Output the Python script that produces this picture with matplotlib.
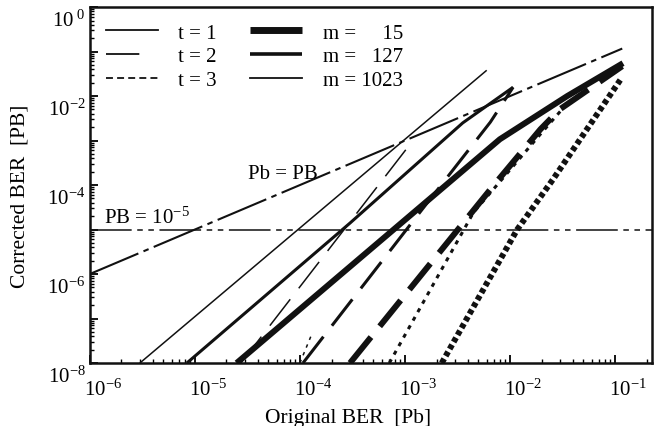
import matplotlib
matplotlib.use('Agg')
import matplotlib.pyplot as plt
from matplotlib.lines import Line2D
from matplotlib.transforms import ScaledTranslation

plt.rcParams['font.family'] = ['Liberation Serif', 'DejaVu Serif']
plt.rcParams['mathtext.fontset'] = 'custom'
plt.rcParams['mathtext.rm'] = 'Liberation Serif'
plt.rcParams['mathtext.it'] = 'Liberation Serif:italic'
plt.rcParams['lines.scale_dashes'] = False

# 曲线数据: 原始误码率 Pb -> 纠错后误码率 PB
t1_m1023_pb = [3.0e-6, 6.0e-3]
t1_m1023_PB = [1e-8, 3.8e-2]
t1_m127_pb = [8.4e-6, 3.0e-4, 3.55e-3, 1.07e-2]
t1_m127_PB = [1e-8, 1.4e-5, 2.5e-3, 1.58e-2]
t1_m15_pb = [2.5e-5, 8.0e-3, 3.5e-2, 0.119]
t1_m15_PB = [1e-8, 1.07e-3, 1.0e-2, 5.5e-2]

t2_m1023_pb = [2.75e-5, 1.12e-3]
t2_m1023_PB = [1e-8, 8.3e-4]
t2_m127_pb = [1.07e-4, 1.24e-3, 6.5e-3, 1.07e-2]
t2_m127_PB = [1e-8, 1.74e-5, 2.6e-3, 1.58e-2]
t2_m15_pb = [3.0e-4, 6.9e-3, 1.95e-2, 3.0e-2, 0.117]
t2_m15_PB = [1e-8, 9.5e-5, 1.8e-3, 5.1e-3, 4.7e-2]

t3_m1023_pb = [1.0e-4, 1.3e-4]
t3_m1023_PB = [1e-8, 4.5e-8]
t3_m127_pb = [7.1e-4, 4.5e-3, 8.5e-3, 1.95e-2, 3.0e-2]
t3_m127_PB = [1e-8, 2.45e-5, 1.4e-4, 1.4e-3, 4.5e-3]
t3_m15_pb = [2.24e-3, 1.17e-2, 2.57e-2, 0.112]
t3_m15_PB = [1e-8, 1.0e-5, 1.35e-4, 2.3e-2]

# 参考线
diag_pb = [1e-6, 0.117]
diag_PB = [1e-6, 0.117]
PB_limit = 1e-5

xticks = [1e-6, 1e-5, 1e-4, 1e-3, 1e-2, 1e-1]
xtick_labels = ['$10^{-6}$', '$10^{-5}$', '$10^{-4}$', '$10^{-3}$', '$10^{-2}$', '$10^{-1}$']
yticks = [1e0, 1e-1, 1e-2, 1e-3, 1e-4, 1e-5, 1e-6, 1e-7, 1e-8]
ytick_labels = ['$10^{\\ 0}$', '', '$10^{-2}$', '', '$10^{-4}$', '', '$10^{-6}$', '', '$10^{-8}$']

# 线宽 / 线型
lw_m = {15: 4.3, 127: 2.2, 1023: 1.1}
dash_t = {1: None, 2: (24, 10), 3: None}
dots = {15: (3.5, 2.3), 127: (3.0, 4.0), 1023: (2.5, 3.5)}

fig = plt.figure(figsize=(6.6, 4.27), dpi=100)
ax = fig.add_axes([0.136, 0.1475, 0.852, 0.8335])

curves = [
    (1, 1023, t1_m1023_pb, t1_m1023_PB), (1, 127, t1_m127_pb, t1_m127_PB), (1, 15, t1_m15_pb, t1_m15_PB),
    (2, 1023, t2_m1023_pb, t2_m1023_PB), (2, 127, t2_m127_pb, t2_m127_PB), (2, 15, t2_m15_pb, t2_m15_PB),
    (3, 1023, t3_m1023_pb, t3_m1023_PB), (3, 127, t3_m127_pb, t3_m127_PB), (3, 15, t3_m15_pb, t3_m15_PB),
]
for t, m, pb, PB in curves:
    line, = ax.plot(pb, PB, color='#111111', lw=lw_m[m], solid_capstyle='butt', dash_capstyle='butt')
    if t == 2:
        line.set_dashes(dash_t[2])
    elif t == 3:
        line.set_dashes(dots[m])

ax.plot(diag_pb, diag_PB, color='#111111', lw=1.5, dashes=(38, 4, 4, 4))
ax.axhline(PB_limit, color='#111111', lw=1.1, dashes=(30, 4, 4, 4, 4, 4))

ax.text(3.2e-5, 1.8e-4, 'Pb = PB', fontsize=15, ha='left', va='center')
ax.text(1.36e-6, 1.4e-5, 'PB = $10^{-5}$', fontsize=15, ha='left', va='baseline')

ax.set_xscale('log')
ax.set_yscale('log')
ax.set_xlim(1e-6, 0.225)
ax.set_ylim(1e-8, 1)
ax.set_xticks(xticks)
ax.set_xticklabels(xtick_labels, fontsize=15)
ax.set_yticks(yticks)
ax.set_yticklabels(ytick_labels, fontsize=15)
ax.tick_params(which='major', direction='in', length=6, width=1.3, pad=11)
ax.tick_params(which='minor', direction='in', length=3, width=1.0)
ax.tick_params(axis='y', which='major', pad=3)
for s in ax.spines.values():
    s.set_linewidth(1.8)
    s.set_color('#111111')

for lab in ax.get_xticklabels():
    lab.set_transform(lab.get_transform() + ScaledTranslation(0.13, 0, fig.dpi_scale_trans))
for lab in ax.get_yticklabels():
    lab.set_transform(lab.get_transform() + ScaledTranslation(0, -0.11, fig.dpi_scale_trans))

ax.set_xlabel('Original BER  [Pb]', fontsize=15.5, labelpad=2)
ax.xaxis.set_label_coords(0.46, -0.125)
ax.set_ylabel('Corrected BER  [PB]', fontsize=15.5)
ax.yaxis.set_label_coords(-0.108, 0.47)

# 图例
handles = [
    Line2D([], [], color='#111111', lw=1.3),
    Line2D([], [], color='#111111', lw=1.3, dashes=(24, 100)),
    Line2D([], [], color='#111111', lw=1.3, dashes=(5, 3)),
    Line2D([], [], color='#111111', lw=5.0, solid_capstyle='butt'),
    Line2D([], [], color='#111111', lw=2.6, solid_capstyle='butt'),
    Line2D([], [], color='#111111', lw=1.3),
]
labels = ['t = 1', 't = 2', 't = 3', 'm =     15', 'm =   127', 'm = 1023']
ax.legend(handles, labels, ncol=2, loc='upper left', bbox_to_anchor=(0.028, 0.955),
          frameon=False, fontsize=15, handlelength=2.5, handletextpad=1.0,
          columnspacing=1.6, labelspacing=0.2, borderpad=0, borderaxespad=0)

fig.savefig('out.png', dpi=100)
